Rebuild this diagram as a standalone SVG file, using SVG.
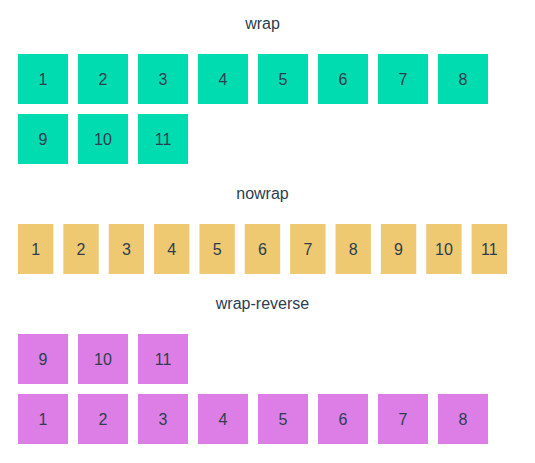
<svg xmlns="http://www.w3.org/2000/svg" width="535" height="463" viewBox="0 0 535 463">
<style>
text{font-family:"Liberation Sans",Arial,sans-serif;font-size:16px;fill:#2c3e50;text-anchor:middle}
.t{fill:#00dcb0}.g{fill:#efc872}.p{fill:#dc7ee6}
</style>
<rect width="535" height="463" fill="#fff"/>
<g id="title-wrap"><text x="262.5" y="28.5">wrap</text></g>
<g id="wrap">
<g id="w1"><rect class="t" x="18" y="54" width="50" height="50"/><text x="43" y="84.7">1</text></g>
<g id="w2"><rect class="t" x="78" y="54" width="50" height="50"/><text x="103" y="84.7">2</text></g>
<g id="w3"><rect class="t" x="138" y="54" width="50" height="50"/><text x="163" y="84.7">3</text></g>
<g id="w4"><rect class="t" x="198" y="54" width="50" height="50"/><text x="223" y="84.7">4</text></g>
<g id="w5"><rect class="t" x="258" y="54" width="50" height="50"/><text x="283" y="84.7">5</text></g>
<g id="w6"><rect class="t" x="318" y="54" width="50" height="50"/><text x="343" y="84.7">6</text></g>
<g id="w7"><rect class="t" x="378" y="54" width="50" height="50"/><text x="403" y="84.7">7</text></g>
<g id="w8"><rect class="t" x="438" y="54" width="50" height="50"/><text x="463" y="84.7">8</text></g>
<g id="w9"><rect class="t" x="18" y="114" width="50" height="50"/><text x="43" y="144.7">9</text></g>
<g id="w10"><rect class="t" x="78" y="114" width="50" height="50"/><text x="103" y="144.7">10</text></g>
<g id="w11"><rect class="t" x="138" y="114" width="50" height="50"/><text x="163" y="144.7">11</text></g>
</g>
<g id="title-nowrap"><text x="262.5" y="198.5">nowrap</text></g>
<g id="nowrap">
<g id="n1"><rect class="g" x="18" y="224" width="35.36" height="50"/><text x="35.68" y="254.7">1</text></g>
<g id="n2"><rect class="g" x="63.36" y="224" width="35.36" height="50"/><text x="81.04" y="254.7">2</text></g>
<g id="n3"><rect class="g" x="108.72" y="224" width="35.36" height="50"/><text x="126.4" y="254.7">3</text></g>
<g id="n4"><rect class="g" x="154.08" y="224" width="35.36" height="50"/><text x="171.76" y="254.7">4</text></g>
<g id="n5"><rect class="g" x="199.44" y="224" width="35.36" height="50"/><text x="217.12" y="254.7">5</text></g>
<g id="n6"><rect class="g" x="244.8" y="224" width="35.36" height="50"/><text x="262.48" y="254.7">6</text></g>
<g id="n7"><rect class="g" x="290.16" y="224" width="35.36" height="50"/><text x="307.84" y="254.7">7</text></g>
<g id="n8"><rect class="g" x="335.52" y="224" width="35.36" height="50"/><text x="353.2" y="254.7">8</text></g>
<g id="n9"><rect class="g" x="380.88" y="224" width="35.36" height="50"/><text x="398.56" y="254.7">9</text></g>
<g id="n10"><rect class="g" x="426.24" y="224" width="35.36" height="50"/><text x="443.92" y="254.7">10</text></g>
<g id="n11"><rect class="g" x="471.6" y="224" width="35.36" height="50"/><text x="489.28" y="254.7">11</text></g>
</g>
<g id="title-wrap-reverse"><text x="262.5" y="308.5">wrap-reverse</text></g>
<g id="wrap-reverse">
<g id="r9"><rect class="p" x="18" y="334" width="50" height="50"/><text x="43" y="364.7">9</text></g>
<g id="r10"><rect class="p" x="78" y="334" width="50" height="50"/><text x="103" y="364.7">10</text></g>
<g id="r11"><rect class="p" x="138" y="334" width="50" height="50"/><text x="163" y="364.7">11</text></g>
<g id="r1"><rect class="p" x="18" y="394" width="50" height="50"/><text x="43" y="424.7">1</text></g>
<g id="r2"><rect class="p" x="78" y="394" width="50" height="50"/><text x="103" y="424.7">2</text></g>
<g id="r3"><rect class="p" x="138" y="394" width="50" height="50"/><text x="163" y="424.7">3</text></g>
<g id="r4"><rect class="p" x="198" y="394" width="50" height="50"/><text x="223" y="424.7">4</text></g>
<g id="r5"><rect class="p" x="258" y="394" width="50" height="50"/><text x="283" y="424.7">5</text></g>
<g id="r6"><rect class="p" x="318" y="394" width="50" height="50"/><text x="343" y="424.7">6</text></g>
<g id="r7"><rect class="p" x="378" y="394" width="50" height="50"/><text x="403" y="424.7">7</text></g>
<g id="r8"><rect class="p" x="438" y="394" width="50" height="50"/><text x="463" y="424.7">8</text></g>
</g>
</svg>
